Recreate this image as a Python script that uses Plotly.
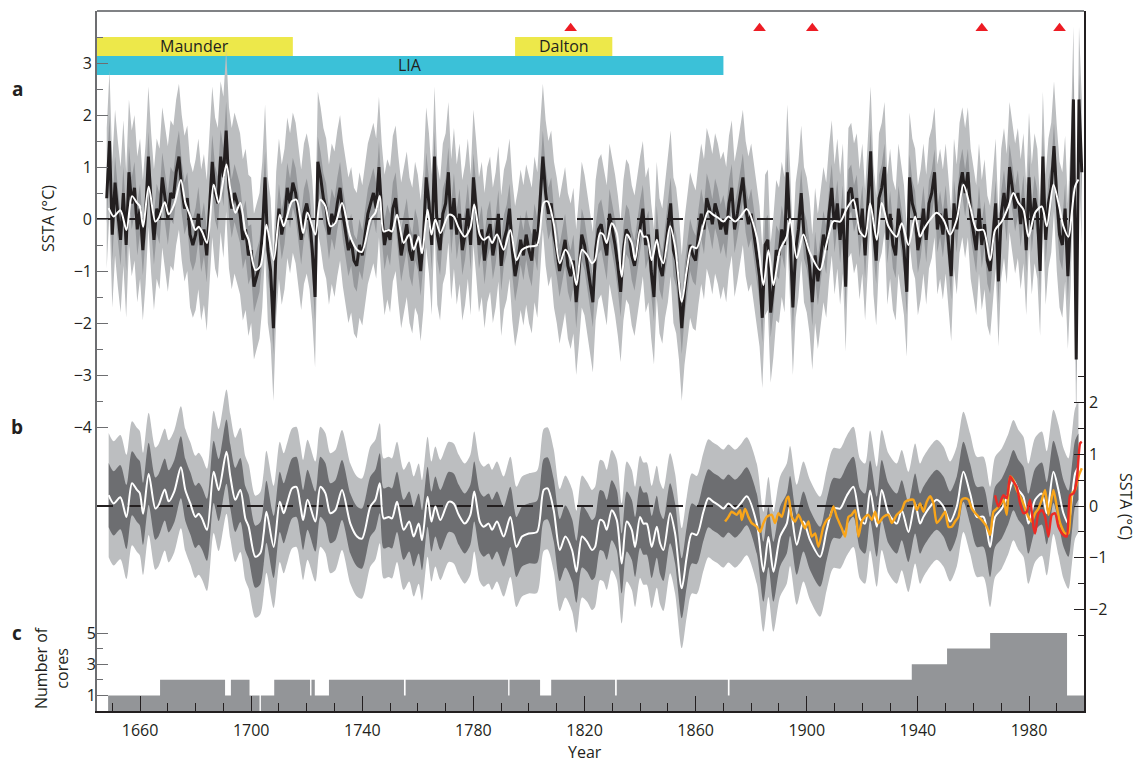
import plotly.graph_objects as go

# ---------------- data ----------------
XMIN, XMAX = 1644.5, 1999.8

period_names = ["Maunder", "Dalton", "LIA"]
period_start = [1644.5, 1795, 1644.5]
period_end = [1715, 1830, 1870]

volcano_years = [1815, 1883, 1902, 1963, 1991]

black_years = list(range(1648, 2000))
black_vals = [
    0.4, 1.5, -0.3, 0.7, 0.1, -0.4, 0.5, -0.5, 0.9, 0.3, 0.6, -0.2,
    0.2, -0.6, 0.1, 1.2, 0.3, -0.4, 0.2, 0.0, 0.8, 0.4,
    0.0, 0.5, 0.4, 0.9, 1.2, 0.6, 0.2, 0.4, -0.3, -0.5,
    -0.3, 0.1, -0.5, -0.2, -0.7, 0.2, 1.1, 0.5, 0.3, 1.2,
    0.8, 1.7, 0.6, 0.2, 0.5, 0.3, 0.1, -0.4, -0.2, -0.7,
    -0.6, -1.3, -1.1, -0.9, -0.3, 0.8, -0.6, -1.0, -2.1, -0.5,
    0.2, -0.3, 0.0, 0.6, 0.3, 0.7, 0.5, 0.0, -0.4, 0.1,
    0.3, 0.0, -0.6, -1.5, 1.1, 0.8, 0.4, 0.2, -0.3, 0.1,
    -0.1, 0.3, 0.6, 0.1, -0.3, -0.6, -0.4, -0.8, -0.9, -0.5,
    -0.7, -0.3, 0.1, 0.3, 0.5, 0.2, 1.0, 0.1, -0.5, -0.2,
    -0.4, 0.2, 0.4, -0.2, -0.7, -0.4, -0.1, -0.6, -0.8, -0.3,
    -0.5, -1.0, -0.4, 0.8, 0.3, -0.5, 1.2, -0.3, -0.6, 0.1,
    0.3, 0.9, -0.2, 0.4, -0.3, 0.1, -0.6, -0.3, 0.2, -0.5,
    0.8, 0.2, -0.5, -0.2, -0.8, -0.3, -0.1, -0.7, -0.4, 0.1,
    -0.9, -0.4, -0.2, 0.2, -0.6, -1.1, -0.8, -0.4, -0.7, -0.3,
    -0.6, -0.8, -0.2, -0.5, 0.4, 1.2, 0.5, 0.1, 0.3, -0.3,
    -0.6, -1.0, -0.7, -0.4, -0.9, -1.1, -0.8, -1.6, -1.0, -0.3,
    -0.5, -0.9, -1.2, -1.6, -0.6, -0.2, -0.1, -0.4, -0.7, 0.1,
    -0.2, -0.5, -0.9, -1.4, -0.6, -0.2, -0.3, -0.7, -0.9, -0.5,
    -0.1, 0.2, -0.5, -0.3, -1.0, -1.5, -0.2, -0.9, -1.1, -0.6,
    -0.2, 0.3, -0.6, -0.8, -1.3, -2.1, -1.4, -0.9, -0.5, -0.7,
    -0.8, -0.3, 0.1, -0.2, 0.4, 0.2, -0.1, 0.3, 0.1, -0.2,
    0.0, -0.3, 0.3, 0.6, -0.2, 0.1, 0.5, 0.8, 0.2, -0.1,
    0.1, -0.3, -0.6, -1.1, -1.9, -0.5, -0.4, -1.8, -1.3, -0.6,
    -0.7, -0.2, -0.5, 0.9, -0.3, -1.7, -0.6, -0.2, 0.5, -0.3,
    -0.5, -0.9, -1.6, -0.7, -1.2, -0.8, -0.3, -0.6, 0.1, 0.6,
    -0.2, 0.3, -0.4, 0.2, -1.3, 0.5, 0.6, 0.2, 0.4, -0.3,
    0.2, -0.7, 0.3, 1.3, -0.2, -0.8, 0.4, 0.6, 1.0, -0.4,
    0.1, -0.5, -0.7, 0.2, -0.2, -0.6, -1.4, 0.8, 0.3, 0.1,
    -0.6, -0.3, 0.2, -0.4, 0.3, 0.5, 0.9, -0.2, 0.1, -0.3,
    0.2, -0.5, -1.1, 0.3, -0.2, 0.6, 0.9, 0.5, 0.9, 0.1,
    -0.3, -0.6, 0.2, -0.5, -0.1, -0.8, -1.0, -0.4, 0.3, -1.2,
    0.1, 0.5, 0.0, 1.0, 0.6, 0.2, 0.5, -0.1, 0.4, -0.6,
    0.8, -0.2, 0.4, 0.1, -1.0, 1.2, -0.4, 0.3, 0.6, 1.4,
    0.4, -0.3, -0.5, 0.2, -1.1, 0.1, 2.3, -2.7, 2.3, 0.9,
]

# uncertainty half-widths per decade (1640s ... 1990s)
dark_hw_a = [0.48, 0.50, 0.48, 0.50, 0.52, 0.56, 0.50, 0.48, 0.48, 0.50, 0.48, 0.50,
             0.48, 0.48, 0.46, 0.48, 0.50, 0.50, 0.48, 0.48, 0.46, 0.50, 0.48, 0.46,
             0.48, 0.46, 0.46, 0.45, 0.45, 0.44, 0.44, 0.45, 0.44, 0.44, 0.44, 0.48]
light_hw_a = [1.35, 1.40, 1.35, 1.40, 1.45, 1.55, 1.40, 1.35, 1.35, 1.40, 1.35, 1.40,
              1.35, 1.35, 1.30, 1.35, 1.40, 1.40, 1.35, 1.35, 1.30, 1.40, 1.35, 1.30,
              1.35, 1.30, 1.30, 1.25, 1.25, 1.25, 1.25, 1.25, 1.25, 1.25, 1.25, 1.40]
dark_hw_b = [0.62, 0.62, 0.60, 0.60, 0.60, 0.62, 0.60, 0.58, 0.58, 0.58, 0.58, 0.58,
             0.58, 0.58, 0.58, 0.58, 0.60, 0.60, 0.58, 0.58, 0.60, 0.58, 0.56, 0.56,
             0.58, 0.58, 0.58, 0.58, 0.58, 0.58, 0.58, 0.58, 0.58, 0.58, 0.60, 0.64]
light_hw_b = [1.20, 1.20, 1.18, 1.18, 1.18, 1.20, 1.18, 1.16, 1.16, 1.16, 1.16, 1.16,
              1.16, 1.16, 1.16, 1.16, 1.18, 1.18, 1.16, 1.16, 1.18, 1.16, 1.14, 1.14,
              1.16, 1.16, 1.16, 1.16, 1.16, 1.16, 1.16, 1.16, 1.16, 1.16, 1.20, 1.26]

white_years = [
    1648.7, 1650.5, 1652.9, 1655.1, 1657.1, 1658.9, 1659.9, 1661.1, 1663.1, 1665.5, 1666.7, 1668.9,
    1670.3, 1672.3, 1674.7, 1676.3, 1678.1, 1679.9, 1681.1, 1682.3, 1684.1, 1686.5, 1688.3, 1691.1,
    1692.5, 1694.3, 1696.1, 1697.9, 1699.1, 1701.5, 1703.3, 1704.5, 1705.5, 1708.1, 1710.3, 1711.7,
    1712.9, 1714.7, 1716.3, 1717.7, 1718.7, 1720.3, 1723.1, 1724.9, 1726.7, 1728.5, 1730.3, 1732.7,
    1735.7, 1738.1, 1739.9, 1742.9, 1744.7, 1746.3, 1747.7, 1749.5, 1750.7, 1752.5, 1754.9, 1756.9,
    1758.5, 1760.3, 1761.5, 1763.5, 1764.9, 1766.3, 1768.1, 1771.1, 1772.9, 1774.7, 1776.9, 1778.9,
    1780.3, 1782.3, 1783.7, 1785.5, 1786.7, 1788.5, 1790.9, 1793.3, 1795.5, 1797.5, 1799.9, 1802.9,
    1805.3, 1806.7, 1808.9, 1811.1, 1813.1, 1815.5, 1817.1, 1819.1, 1820.9, 1822.7, 1823.8, 1825.6,
    1826.8, 1828.0, 1829.8, 1831.6, 1833.4, 1835.2, 1837.0, 1838.2, 1840.0, 1841.2, 1842.4, 1844.2,
    1846.0, 1847.2, 1848.4, 1850.8, 1852.6, 1855.0, 1856.8, 1858.6, 1860.4, 1862.8, 1864.6, 1866.4,
    1868.2, 1870.0, 1871.8, 1874.2, 1876.2, 1878.4, 1882.0, 1884.4, 1886.2, 1888.0, 1890.4, 1892.8,
    1894.0, 1896.4, 1898.8, 1901.2, 1904.8, 1907.2, 1909.6, 1912.0, 1914.4, 1916.8, 1919.2, 1921.0,
    1922.8, 1925.2, 1927.0, 1929.4, 1932.4, 1934.2, 1936.6, 1939.0, 1940.8, 1942.0, 1944.4, 1946.8,
    1949.2, 1951.6, 1954.0, 1956.4, 1958.8, 1961.2, 1963.6, 1966.0, 1967.8, 1970.2, 1972.6, 1974.4,
    1976.2, 1978.0, 1979.8, 1982.2, 1984.6, 1986.4, 1988.8, 1990.6, 1992.4, 1994.2, 1995.4, 1996.6,
    1997.8]
white_vals = [
    0.21, 0.05, 0.17, -0.21, 0.44, 0.31, 0.25, -0.15, 0.62, -0.05, 0.02, 0.32,
    0.09, 0.28, 0.75, 0.31, 0.05, -0.21, -0.15, -0.24, -0.46, 0.66, 0.31, 1.05,
    0.57, 0.12, 0.31, -0.24, -0.40, -0.98, -0.91, -0.53, -0.11, -0.79, 0.08, -0.14,
    0.05, 0.34, 0.37, 0.02, -0.27, 0.12, -0.30, 0.37, 0.25, -0.14, -0.08, 0.31,
    -0.34, -0.59, -0.63, -0.01, 0.12, 0.44, -0.24, -0.21, -0.24, 0.08, -0.46, -0.30,
    -0.59, -0.34, -0.66, 0.18, -0.30, -0.01, -0.27, 0.08, 0.05, -0.17, -0.34, -0.17,
    0.28, -0.30, -0.40, -0.34, -0.46, -0.30, -0.59, -0.21, -0.79, -0.59, -0.53, -0.50,
    0.31, 0.34, -0.08, -0.85, -0.59, -0.85, -1.27, -0.59, -0.69, -0.85, -0.79, -0.27,
    -0.30, -0.46, -0.08, -0.27, -1.11, -0.30, -0.46, -0.79, -0.21, -0.34, -0.34, -0.79,
    -0.40, -0.72, -0.85, -0.14, -0.53, -1.59, -0.98, -0.53, -0.56, -0.11, 0.15, 0.08,
    0.02, -0.05, 0.05, -0.05, 0.05, 0.19, -0.34, -1.27, -0.60, -1.27, -0.59, -0.34,
    0.00, -0.75, -0.30, -0.66, -0.98, -0.46, -0.04, -0.05, 0.20, 0.37, -0.25, -0.34,
    0.30, -0.40, 0.31, -0.14, -0.34, -0.08, -0.50, 0.05, -0.34, -0.21, -0.01, 0.12,
    -0.01, -0.30, -0.01, 0.66, 0.24, -0.21, -0.21, -0.79, -0.21, -0.05, 0.24, 0.50,
    0.31, 0.18, -0.34, 0.12, 0.24, -0.14, 0.66, 0.31, -0.14, -0.34, 0.12, 0.63,
    0.76]

orange_years = [
    1870.6, 1871.8, 1873.0, 1874.8, 1876.0, 1876.6, 1877.8, 1879.0, 1880.2, 1882.0, 1883.2, 1884.4,
    1885.6, 1887.4, 1888.6, 1889.8, 1891.0, 1892.8, 1893.4, 1894.6, 1895.8, 1897.0, 1898.2, 1899.4,
    1900.6, 1901.8, 1903.0, 1904.2, 1906.0, 1907.2, 1908.4, 1909.6, 1910.8, 1912.6, 1913.8, 1915.0,
    1916.2, 1917.4, 1918.6, 1919.8, 1921.0, 1922.2, 1923.4, 1924.6, 1925.8, 1927.6, 1929.4, 1930.6,
    1932.4, 1934.2, 1935.4, 1937.2, 1938.4, 1939.6, 1940.8, 1942.0, 1943.2, 1944.4, 1945.6, 1946.8,
    1948.6, 1949.8, 1951.0, 1952.2, 1953.4, 1954.6, 1955.8, 1957.0, 1958.2, 1959.4, 1961.2, 1963.0,
    1964.8, 1966.0, 1967.2, 1968.4, 1969.6, 1970.8, 1972.0, 1973.2, 1974.4, 1975.6, 1977.4, 1978.6,
    1979.8, 1981.0, 1982.2, 1983.4, 1984.6, 1985.8, 1987.0, 1988.8, 1990.0, 1991.2, 1993.0, 1994.2,
    1995.4, 1996.6, 1997.8, 1999.0]
orange_vals = [
    -0.30, -0.21, -0.11, -0.17, -0.08, -0.27, -0.05, -0.21, -0.33, -0.40, -0.50, -0.33,
    -0.21, -0.17, -0.33, -0.14, -0.21, 0.15, 0.18, -0.21, -0.30, -0.17, -0.30, -0.43,
    -0.30, -0.59, -0.53, -0.79, -0.40, -0.27, -0.21, -0.01, -0.21, -0.43, -0.59, -0.21,
    -0.17, -0.08, -0.59, -0.30, -0.21, -0.17, -0.27, -0.11, -0.33, -0.21, -0.17, -0.33,
    -0.17, -0.08, 0.08, 0.12, 0.12, -0.08, 0.05, -0.11, 0.08, 0.19, 0.05, -0.33,
    -0.21, -0.11, -0.40, -0.40, -0.30, -0.21, 0.12, 0.15, 0.12, -0.05, -0.17, -0.27,
    -0.40, -0.56, -0.11, -0.05, 0.02, 0.12, -0.17, 0.57, 0.50, 0.31, 0.12, -0.05,
    -0.21, -0.30, -0.14, -0.05, 0.12, 0.31, -0.17, 0.31, -0.01, -0.33, -0.53, -0.53,
    0.24, 0.31, 0.57, 0.73]

red_years = [1967.8, 1969.0, 1970.8, 1972.0, 1973.2, 1974.4, 1975.6, 1976.8, 1978.0, 1979.2,
             1980.4, 1981.6, 1982.2, 1983.4, 1984.6, 1985.8, 1987.0, 1988.2, 1989.4, 1990.6,
             1992.4, 1993.6, 1994.8, 1996.0, 1997.2, 1998.4, 1999.0]
red_vals = [0.21, -0.01, 0.21, 0.15, 0.57, 0.47, 0.37, 0.05, -0.14, -0.11,
            0.12, -0.40, -0.53, -0.14, -0.08, -0.21, -0.59, -0.17, -0.14, -0.40,
            -0.56, -0.59, 0.21, 0.24, 0.50, 1.21, 1.24]

# number of cores: one continuous core (two pieces) plus additional core segments
core_base_start = [1648.5, 1703.5]
core_base_end = [1703.0, 2000.0]
core_seg_start = [1667.2, 1692.7, 1708.3, 1721.7, 1728.0, 1755.6, 1793.0, 1808.0, 1831.6,
                  1872.2, 1937.8, 1950.5, 1966.0]
core_seg_end = [1690.6, 1699.4, 1721.2, 1722.9, 1755.0, 1792.5, 1804.0, 1831.0, 1871.6,
                1937.8, 1950.5, 1966.0, 1993.7]
core_seg_count = [2, 2, 2, 2, 2, 2, 2, 2, 2, 2, 3, 4, 5]

ref_value = 0.0
ref_end = 1994.0

# ---------------- styling ----------------
TXT = "#231f20"
LIGHT = "#bcbec0"
MID_A = "#97999c"
DARK_B = "#6d6e71"
FONT = "Open Sans"

# page body has an 8px margin; figure is sized so the plot area lands at
# x 97..1084, y 11..711 of the 1142x762 window
FIG_W, FIG_H = 1134, 754
PL, PT, PR, PB = 89, 3, 58, 51


def dec(y):
    return int((y - 1640) // 10)


fig = go.Figure()

# ---- panel a ----
la_lo = [v - light_hw_a[dec(y)] for y, v in zip(black_years, black_vals)]
la_hi = [v + light_hw_a[dec(y)] for y, v in zip(black_years, black_vals)]
da_lo = [v - dark_hw_a[dec(y)] for y, v in zip(black_years, black_vals)]
da_hi = [v + dark_hw_a[dec(y)] for y, v in zip(black_years, black_vals)]

fig.add_trace(go.Scatter(x=black_years, y=la_lo, mode="lines", line=dict(width=0), yaxis="y",
                         hoverinfo="skip"))
fig.add_trace(go.Scatter(x=black_years, y=la_hi, mode="lines", line=dict(width=0), fill="tonexty",
                         fillcolor=LIGHT, yaxis="y", hoverinfo="skip"))
fig.add_trace(go.Scatter(x=black_years, y=da_lo, mode="lines", line=dict(width=0), yaxis="y",
                         hoverinfo="skip"))
fig.add_trace(go.Scatter(x=black_years, y=da_hi, mode="lines", line=dict(width=0), fill="tonexty",
                         fillcolor=MID_A, yaxis="y", hoverinfo="skip"))
fig.add_trace(go.Scatter(x=black_years, y=black_vals, mode="lines",
                         line=dict(color=TXT, width=3.0), yaxis="y"))
fig.add_trace(go.Scatter(x=[XMIN, ref_end], y=[ref_value, ref_value], mode="lines",
                         line=dict(color=TXT, width=2, dash="16px,14px"), yaxis="y"))
fig.add_trace(go.Scatter(x=white_years, y=white_vals, mode="lines",
                         line=dict(color="white", width=2, shape="spline", smoothing=0.8), yaxis="y"))
fig.add_trace(go.Scatter(x=volcano_years, y=[3.67] * len(volcano_years), mode="markers",
                         marker=dict(symbol="triangle-up", size=11, color="#ed1c24", line=dict(width=0)),
                         yaxis="y"))

# ---- panel b ----
lb_lo = [v - light_hw_b[dec(y)] for y, v in zip(white_years, white_vals)]
lb_hi = [v + light_hw_b[dec(y)] for y, v in zip(white_years, white_vals)]
db_lo = [v - dark_hw_b[dec(y)] for y, v in zip(white_years, white_vals)]
db_hi = [v + dark_hw_b[dec(y)] for y, v in zip(white_years, white_vals)]
sp = dict(width=0, shape="spline", smoothing=0.8)
fig.add_trace(go.Scatter(x=white_years, y=lb_lo, mode="lines", line=sp, yaxis="y2", hoverinfo="skip"))
fig.add_trace(go.Scatter(x=white_years, y=lb_hi, mode="lines", line=sp, fill="tonexty",
                         fillcolor=LIGHT, yaxis="y2", hoverinfo="skip"))
fig.add_trace(go.Scatter(x=white_years, y=db_lo, mode="lines", line=sp, yaxis="y2", hoverinfo="skip"))
fig.add_trace(go.Scatter(x=white_years, y=db_hi, mode="lines", line=sp, fill="tonexty",
                         fillcolor=DARK_B, yaxis="y2", hoverinfo="skip"))
fig.add_trace(go.Scatter(x=[XMIN, ref_end], y=[ref_value, ref_value], mode="lines",
                         line=dict(color=TXT, width=2, dash="16px,14px"), yaxis="y2"))
fig.add_trace(go.Scatter(x=white_years, y=white_vals, mode="lines",
                         line=dict(color="white", width=2, shape="spline", smoothing=0.8), yaxis="y2"))
fig.add_trace(go.Scatter(x=orange_years, y=orange_vals, mode="lines",
                         line=dict(color="#f9a51a", width=2.4, shape="spline", smoothing=0.6), yaxis="y2"))
fig.add_trace(go.Scatter(x=red_years, y=red_vals, mode="lines",
                         line=dict(color="#ed2a24", width=2.4, shape="spline", smoothing=0.6), yaxis="y2"))

# ---- panel c ----
cx, cy = [], []
for s, e in zip(core_base_start, core_base_end):
    cx += [s, e, e, s, s, None]
    cy += [0, 0, 1, 1, 0, None]
for s, e, n in zip(core_seg_start, core_seg_end, core_seg_count):
    cx += [s, e, e, s, s, None]
    cy += [1, 1, n, n, 1, None]
fig.add_trace(go.Scatter(x=cx, y=cy, mode="lines", fill="toself", fillcolor="#939598",
                         line=dict(width=0), yaxis="y3", hoverinfo="skip"))

# ---- period bars ----
shapes = []
annos = []
bar_rows = {"Maunder": (3.135, 3.5, "#ede84a"), "Dalton": (3.135, 3.5, "#ede84a"),
            "LIA": (2.77, 3.135, "#3bc1d8")}
for name, s, e in zip(period_names, period_start, period_end):
    y0, y1, col = bar_rows[name]
    shapes.append(dict(type="rect", xref="x", yref="y", x0=max(s, XMIN), x1=e, y0=y0, y1=y1,
                       fillcolor=col, line=dict(width=0), layer="below"))
    annos.append(dict(x=(max(s, XMIN) + e) / 2, y=(y0 + y1) / 2, xref="x", yref="y", text=name,
                      xanchor="center", yanchor="middle",
                      showarrow=False, font=dict(size=16, color=TXT, family=FONT)))

shapes.append(dict(type="line", xref="paper", yref="paper", x0=0, x1=1, y0=1, y1=1,
                   line=dict(color="#808285", width=2)))


def px_x(x):
    return (x - 97) / 987.0


def px_y(y):
    return (711 - y) / 700.0


def lab(text, x, y, angle=0, size=16):
    annos.append(dict(x=px_x(x), y=px_y(y), xref="paper", yref="paper", text=text,
                      textangle=angle, xanchor="center", yanchor="middle", showarrow=False,
                      font=dict(size=size, color=TXT, family=FONT)))


for t, yy in (("a", 89), ("b", 427), ("c", 633)):
    lab("<b>%s</b>" % t, 17, yy, size=19)
lab("SSTA (°C)", 48, 219, -90)
lab("SSTA (°C)", 1126, 506, 90)
lab("Number of<br>cores", 51, 668, -90)
lab("Year", 585, 752)

tickfont = dict(size=16, color=TXT, family=FONT)
major_x = list(range(1660, 1981, 40))
minor_x = [v for v in range(1650, 2000, 10) if v not in major_x]

fig.update_layout(
    width=FIG_W, height=FIG_H, autosize=False,
    margin=dict(l=PL, r=PR, t=PT, b=PB),
    plot_bgcolor="white", paper_bgcolor="white", showlegend=False,
    font=dict(family=FONT, size=16, color=TXT),
    shapes=shapes, annotations=annos,
    xaxis=dict(range=[XMIN, XMAX], tickvals=major_x, ticks="inside", ticklen=15, tickwidth=1.3,
               tickcolor=TXT, showline=True, linecolor=TXT, linewidth=1.6, showgrid=False,
               zeroline=False, tickfont=tickfont, ticklabelstandoff=4,
               minor=dict(tickvals=minor_x, ticks="inside", ticklen=8, tickwidth=1.3, tickcolor=TXT)),
    yaxis=dict(range=[-9.4615, 4.0], tickvals=list(range(-4, 4)), ticks="inside", ticklen=11,
               tickwidth=1.3, tickcolor="#6d6e71", showline=True, linecolor="#6d6e71", linewidth=1.6,
               showgrid=False, zeroline=False, tickfont=tickfont,
               minor=dict(tickvals=[-3.5, -2.5, -1.5, -0.5, 0.5, 1.5, 2.5, 3.5], ticks="inside",
                          ticklen=6, tickwidth=1.3, tickcolor="#6d6e71")),
    yaxis2=dict(range=[-3.961, 9.565], overlaying="y", side="right", anchor="x",
                tickvals=[-2, -1, 0, 1, 2], ticks="inside", ticklen=10, tickwidth=1.3, tickcolor=TXT,
                showline=True, linecolor=TXT, linewidth=1.6, showgrid=False, zeroline=False,
                tickfont=tickfont,
                minor=dict(tickvals=[-2.5, -1.5, -0.5, 0.5, 1.5, 2.5], ticks="inside", ticklen=6,
                           tickwidth=1.3, tickcolor=TXT)),
    yaxis3=dict(range=[0, 44.87], overlaying="y", side="left", anchor="x", tickvals=[1, 3, 5],
                ticks="inside", ticklen=11, tickwidth=1.3, tickcolor="#6d6e71", showline=False,
                showgrid=False, zeroline=False, tickfont=tickfont,
                minor=dict(tickvals=[2, 4], ticks="inside", ticklen=6, tickwidth=1.3,
                           tickcolor="#6d6e71")),
)

fig.write_html("out.html")
